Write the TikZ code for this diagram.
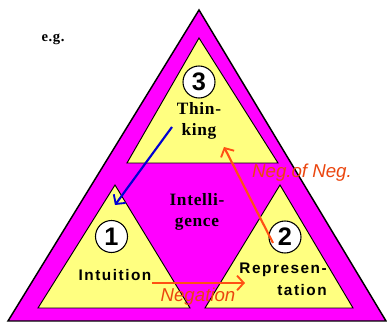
\documentclass[tikz,border=0pt]{standalone}
\usepackage{fontspec}
\setmainfont{Liberation Serif}
\newfontfamily\sansls[LetterSpace=10]{Liberation Sans}
\newfontfamily\serifls[LetterSpace=4]{Liberation Serif}
\newfontfamily\sansplain{Liberation Sans}
\usetikzlibrary{arrows.meta}
\definecolor{mag}{RGB}{255,0,255}
\definecolor{ylw}{RGB}{255,255,128}
\definecolor{org}{RGB}{255,80,20}
\definecolor{orgtxt}{RGB}{235,70,15}
\definecolor{blu}{RGB}{0,0,210}
\tikzset{
  outertri/.style={fill=mag,draw=black,line width=1.1pt,line join=miter},
  innertri/.style={fill=ylw,draw=black,line width=0.7pt},
  numcirc/.style={circle,draw=black,fill=white,line width=0.8pt,minimum size=24pt,inner sep=0pt,
     font=\sansplain\bfseries\fontsize{19}{19}\selectfont},
  serlab/.style={font=\serifls\bfseries\fontsize{13}{16}\selectfont,align=center,inner sep=0pt},
  sanlab/.style={font=\sansls\bfseries\fontsize{11.5}{16}\selectfont,align=center,inner sep=0pt},
  neglab/.style={font=\sansplain\itshape\fontsize{14}{14}\selectfont,text=orgtxt,inner sep=0pt},
  arr/.style={line width=1.6pt,-{Straight Barb[length=5pt,width=11pt,line width=1.4pt]}},
}
\begin{document}
\begin{tikzpicture}[x=0.75pt,y=-0.75pt]
\useasboundingbox (0,0) rectangle (387,323);
\fill[white] (0,0) rectangle (387,323);
% outer triangle
\draw[outertri] (199,10) -- (386,321) -- (8,321) -- cycle;
% inner triangles
\draw[innertri] (199,38) -- (278,163) -- (127,163) -- cycle;
\draw[innertri] (115,185) -- (190,308) -- (38,308) -- cycle;
\draw[innertri] (280,185) -- (353,308) -- (205,308) -- cycle;
% labels
\node[font=\serifls\bfseries\fontsize{11}{11}\selectfont,inner sep=0pt] (eg) at (53,39) {e.g.};
\node[numcirc] (c3) at (199,82) {3};
\node[numcirc] (c1) at (111.5,236.5) {1};
\node[numcirc] (c2) at (285,237) {2};
\node[serlab] (t3) at (199,121) {Thin-\\king};
\node[serlab] (mid) at (197,212) {Intelli-\\gence};
\node[sanlab] (t1) at (115,275) {Intuition};
\node[sanlab,anchor=north east] (t2a) at (327,263) {Represen-};
\node[sanlab,anchor=north east] (t2b) at (327,284) {tation};
% arrows
\coordinate (bs) at (172,127);
\coordinate (be) at (115,205);
\draw[arr,blu] (bs) -- (be);
\coordinate (ns) at (152,283);
\coordinate (ne) at (245,283);
\draw[arr,org] (ns) -- (ne);
\coordinate (os) at (273,243);
\coordinate (oe) at (224,147);
\draw[arr,org] (os) -- (oe);
\node[neglab] (lneg) at (198,297) {Negation};
\node[neglab] (lnn) at (302,173) {Neg.of Neg.};
\end{tikzpicture}
\end{document}
